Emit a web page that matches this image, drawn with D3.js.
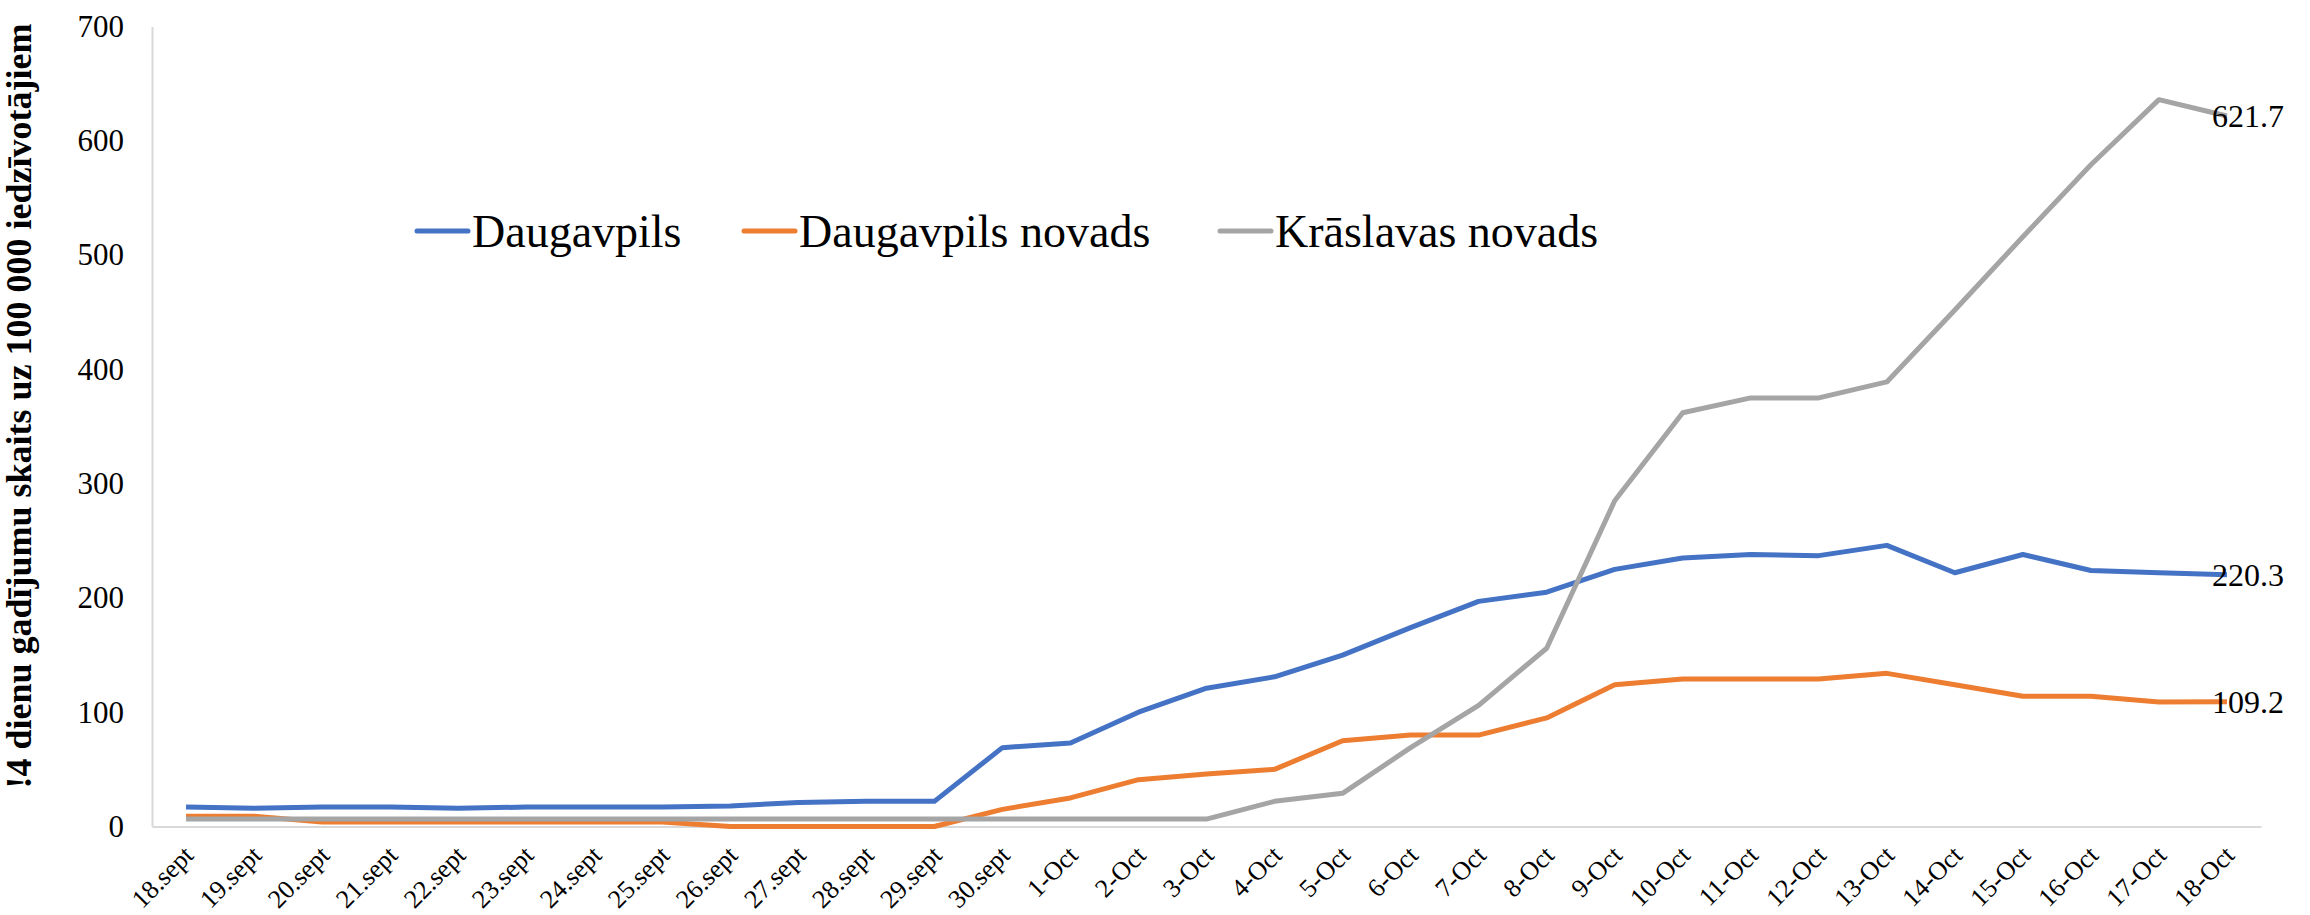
<!DOCTYPE html>
<html>
<head>
<meta charset="utf-8">
<script src="https://cdn.jsdelivr.net/npm/d3@7"></script>
<style>
  body { margin: 0; background: #fff; }
  svg { display: block; font-family: "Liberation Serif", "Times New Roman", serif; }
</style>
</head>
<body>
<svg id="chart" width="2310" height="915"></svg>
<script>
var dates = ["18.sept","19.sept","20.sept","21.sept","22.sept","23.sept","24.sept","25.sept","26.sept","27.sept","28.sept","29.sept","30.sept",
  "1-Oct","2-Oct","3-Oct","4-Oct","5-Oct","6-Oct","7-Oct","8-Oct","9-Oct","10-Oct","11-Oct","12-Oct","13-Oct","14-Oct","15-Oct","16-Oct","17-Oct","18-Oct"];

var daugavpils = [17,16,17,17,16,17,17,17,18,21,22,22,69,73,100,121,131,150,174,197,205,225,235,238,237,246,222,238,224,222,220.3];
var daugavpilsNovads = [9,9,4,4,4,4,4,4,0,0,0,0,15,25,41,46,50,75,80,80,95,124,129,129,129,134,124,114,114,109,109.2];
var kraslavasNovads = [6.5,6.5,6.5,6.5,6.5,6.5,6.5,6.5,6.5,6.5,6.5,6.5,6.5,6.5,6.5,6.5,22,29,69,106,156,285,362,375,375,389,452,516,579,636,621.7];

var seriesNames = ["Daugavpils", "Daugavpils novads", "Krāslavas novads"];
var seriesColors = ["#4472C4", "#ED7D31", "#A5A5A5"];
var yTicks = [0,100,200,300,400,500,600,700];
var yTitle = "!4 dienu gadījumu skaits uz 100 000 iedzīvotājiem";

var svg = d3.select("#chart");
var plotLeft = 152, plotRight = 2261, plotTop = 26.5, plotBottom = 826.5;

var x = d3.scalePoint().domain(dates).range([plotLeft, plotRight]).padding(0.5);
var y = d3.scaleLinear().domain([0, 700]).range([plotBottom, plotTop]);

// axes
var yAxis = svg.append("g")
    .attr("transform", "translate(" + plotLeft + ",0)")
    .call(d3.axisLeft(y).tickValues(yTicks).tickSize(0).tickPadding(28));
yAxis.select(".domain").attr("stroke", "#d9d9d9").attr("stroke-width", 2);
yAxis.selectAll("text").attr("font-size", 31).attr("font-family", "Liberation Serif").attr("fill", "#000");

var xAxis = svg.append("g")
    .attr("transform", "translate(0," + plotBottom + ")")
    .call(d3.axisBottom(x).tickSize(0).tickSizeOuter(0));
xAxis.select(".domain").attr("stroke", "#d9d9d9").attr("stroke-width", 2);
xAxis.selectAll("text")
    .attr("font-size", 26)
    .attr("font-family", "Liberation Serif")
    .attr("fill", "#000")
    .attr("text-anchor", "end")
    .attr("y", 0)
    .attr("dy", "0.35em")
    .attr("transform", "translate(2,24) rotate(-45)");

svg.append("text")
    .attr("transform", "translate(31,406) rotate(-90)")
    .attr("text-anchor", "middle")
    .attr("font-size", 36)
    .attr("font-weight", "bold")
    .text(yTitle);

// lines
var allSeries = [daugavpils, daugavpilsNovads, kraslavasNovads];
var line = d3.line()
    .x(function(d, i) { return x(dates[i]); })
    .y(function(d) { return y(d); });

svg.selectAll(".series")
  .data(allSeries)
  .enter().append("path")
    .attr("class", "series")
    .attr("fill", "none")
    .attr("stroke", function(d, i) { return seriesColors[i]; })
    .attr("stroke-width", 5)
    .attr("stroke-linejoin", "round")
    .attr("d", line);

// end labels
svg.selectAll(".endlabel")
  .data(allSeries)
  .enter().append("text")
    .attr("class", "endlabel")
    .attr("x", x(dates[dates.length - 1]) - 15)
    .attr("y", function(d) { return y(d[d.length - 1]); })
    .attr("dy", "0.35em")
    .attr("font-size", 32)
    .text(function(d) { return d[d.length - 1]; });

// legend
var legendX = [417, 744, 1220];
var legend = svg.selectAll(".legend")
  .data(seriesNames)
  .enter().append("g")
    .attr("class", "legend")
    .attr("transform", function(d, i) { return "translate(" + legendX[i] + ",231)"; });
legend.append("line")
    .attr("x1", 0).attr("x2", 51)
    .attr("stroke", function(d, i) { return seriesColors[i]; })
    .attr("stroke-width", 5)
    .attr("stroke-linecap", "round");
legend.append("text")
    .attr("x", 55)
    .attr("dy", "0.35em")
    .attr("font-size", 46)
    .text(function(d) { return d; });
</script>
</body>
</html>
